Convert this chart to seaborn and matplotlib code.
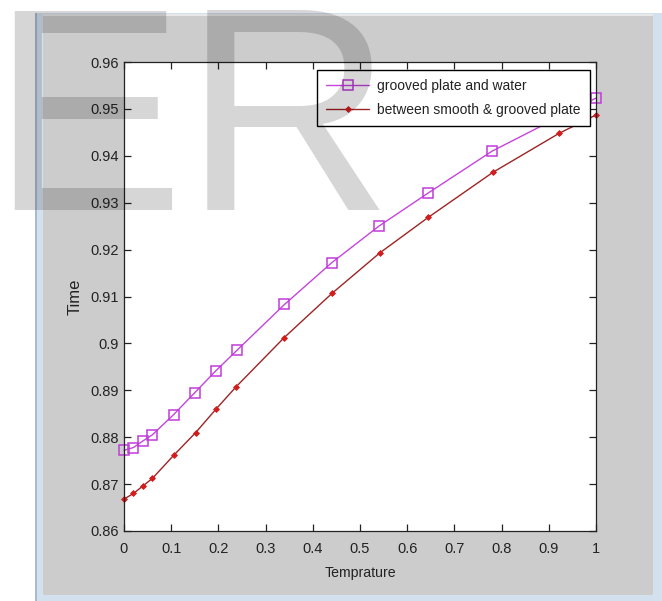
import matplotlib
matplotlib.use("Agg")
import matplotlib.pyplot as plt
from matplotlib.patches import Rectangle
import seaborn as sns
import pandas as pd

# ---- data ----
x_groove = [0, 0.02, 0.04, 0.06, 0.105, 0.15, 0.195, 0.24, 0.34, 0.44, 0.54, 0.645, 0.78, 1.0]
y_groove = [0.8772, 0.8778, 0.8792, 0.8805, 0.8848, 0.8895, 0.8942, 0.8986, 0.9083,
            0.9172, 0.9250, 0.9321, 0.9410, 0.9523]
x_between = [0, 0.02, 0.04, 0.06, 0.105, 0.152, 0.195, 0.237, 0.339, 0.441, 0.542,
             0.645, 0.782, 0.922, 1.0]
y_between = [0.8668, 0.8680, 0.8696, 0.8712, 0.8761, 0.8810, 0.8860, 0.8907, 0.9012,
             0.9107, 0.9193, 0.9269, 0.9365, 0.9448, 0.9487]
label_groove = "grooved plate and water"
label_between = "between smooth & grooved plate"
x_ticks = [0, 0.1, 0.2, 0.3, 0.4, 0.5, 0.6, 0.7, 0.8, 0.9, 1.0]
x_ticklabels = ["0", "0.1", "0.2", "0.3", "0.4", "0.5", "0.6", "0.7", "0.8", "0.9", "1"]
y_ticks = [0.86, 0.87, 0.88, 0.89, 0.90, 0.91, 0.92, 0.93, 0.94, 0.95, 0.96]
y_ticklabels = ["0.86", "0.87", "0.88", "0.89", "0.9", "0.91", "0.92", "0.93", "0.94", "0.95", "0.96"]
x_label = "Temprature"
y_label = "Time"
watermark = "ER"

sns.set_style("ticks")
FONT = ["Liberation Sans", "DejaVu Sans"]
plt.rcParams["font.family"] = FONT

W, H = 662, 601
fig = plt.figure(figsize=(W / 100, H / 100), dpi=100)
fig.patch.set_facecolor("white")


def frect(x0, y0, x1, y1, **kw):
    r = Rectangle((x0 / W, 1 - y1 / H), (x1 - x0) / W, (y1 - y0) / H,
                  transform=fig.transFigure, figure=fig, **kw)
    fig.add_artist(r)


# window frame and grey figure area
frect(35, 13, 662, 601, facecolor="#d3e1ef", edgecolor="none", zorder=-5)
frect(35, 13, 37, 601, facecolor="#a9bccf", edgecolor="none", zorder=-4)
frect(43, 14, 653, 16, facecolor="#e8e8e8", edgecolor="none", zorder=-4)
frect(43, 16, 653, 595, facecolor="#cccccc", edgecolor="none", zorder=-4)

ax = fig.add_axes([124 / W, 1 - 531 / H, 472 / W, 469 / H])
ax.set_facecolor("white")

df_g = pd.DataFrame({"x": x_groove, "y": y_groove})
df_b = pd.DataFrame({"x": x_between, "y": y_between})

sns.lineplot(data=df_g, x="x", y="y", ax=ax, color="#c445dc", linewidth=1.0,
             marker="s", markersize=7, markerfacecolor="none",
             markeredgecolor="#c03cd8", markeredgewidth=1.1,
             label=label_groove, clip_on=False, sort=True)
sns.lineplot(data=df_b, x="x", y="y", ax=ax, color="#9e2424", linewidth=1.0,
             marker="D", markersize=3, markerfacecolor="#d41c1c",
             markeredgecolor="#d41c1c", markeredgewidth=0.6,
             label=label_between, clip_on=False, sort=True)

ax.set_xlim(0, 1)
ax.set_ylim(0.86, 0.96)
ax.set_xticks(x_ticks)
ax.set_xticklabels(x_ticklabels)
ax.set_yticks(y_ticks)
ax.set_yticklabels(y_ticklabels)
ax.tick_params(direction="in", length=5, width=0.9, top=True, right=True,
               labelsize=10.5, colors="#222222", pad=4)
ax.tick_params(axis="x", pad=8)
for s in ax.spines.values():
    s.set_color("#222222")
    s.set_linewidth(0.9)

ax.set_xlabel(x_label, fontsize=10.2, color="#222222", labelpad=7)
ax.set_ylabel(y_label, fontsize=12, color="#222222", labelpad=5)

leg = ax.legend(loc="upper right", bbox_to_anchor=(590 / W, 1 - 70 / H),
                bbox_transform=fig.transFigure, borderaxespad=0,
                frameon=True, fancybox=False, framealpha=1, edgecolor="black",
                fontsize=10, handlelength=3.1, handletextpad=0.6,
                borderpad=0.65, labelspacing=0.7)
leg.get_frame().set_linewidth(1.0)
for t in leg.get_texts():
    t.set_color("#222222")

# translucent watermark over the picture
fig.text(-10 / W, 1 - 210 / H, watermark, fontsize=209,
         color="black", alpha=0.16, ha="left", va="baseline", zorder=100)

fig.savefig("out.png", dpi=100, facecolor=fig.get_facecolor())
